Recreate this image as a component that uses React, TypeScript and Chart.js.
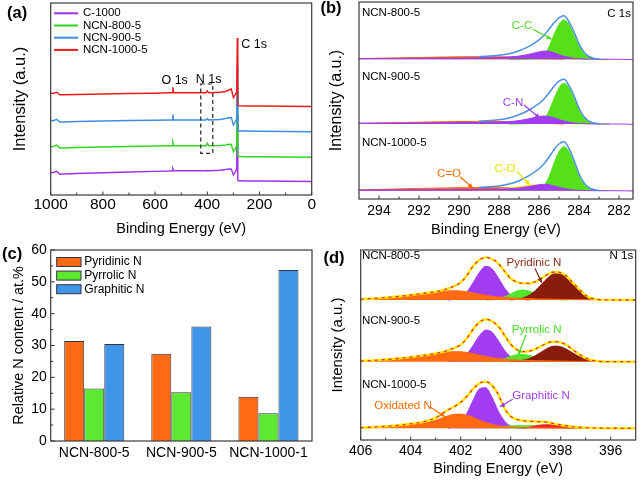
import React, { useEffect, useRef } from 'react';
import { Chart, registerables } from 'chart.js';
Chart.register(...registerables);

const FONT = "'Liberation Sans', Arial, Helvetica, sans-serif";
Chart.defaults.font.family = FONT;
Chart.defaults.color = '#000';
const CW = 641;
const CH = 481;
const _ = null;

// ---------------- (a) XPS survey ----------------
const SURVEY_NAMES = ['C-1000', 'NCN-800-5', 'NCN-900-5', 'NCN-1000-5'];
const SURVEY_EV = [1000, 990, 977, 965, 950, 900, 800, 700, 600, 545, 535, 532, 529, 520, 450, 405, 400, 395, 350, 330, 318, 308, 300, 294, 290, 287, 285, 283, 280, 250, 200, 100, 0];
const SURVEY_C1000 = [22.3, 22.5, 23.7, 20.8, 21.0, 21.5, 22.3, 23.0, 23.6, 24.0, 24.2, 26.3, 24.2, 24.3, 24.3, 24.3, 24.5, 24.3, 24.8, 25.5, 26.0, 26.0, 20.0, 22.5, 25.0, 40.0, 80.0, 14.5, 14.2, 14.0, 14.0, 13.8, 13.5];
const SURVEY_N800 = [48.3, 48.5, 50.0, 47.0, 47.0, 47.5, 48.0, 48.5, 49.0, 49.3, 49.3, 52.7, 49.3, 49.3, 49.3, 49.3, 51.7, 49.3, 49.5, 50.0, 50.7, 50.5, 43.3, 46.0, 48.0, 62.0, 104.0, 39.0, 38.5, 38.3, 38.3, 38.0, 37.8];
const SURVEY_N900 = [74.5, 74.3, 75.7, 73.0, 73.0, 73.5, 74.0, 74.5, 74.8, 75.0, 75.0, 80.7, 75.0, 75.0, 75.0, 75.0, 76.5, 75.0, 75.5, 76.5, 77.3, 77.5, 70.0, 72.5, 75.0, 90.0, 130.0, 64.5, 64.0, 64.0, 63.8, 63.5, 63.3];
const SURVEY_N1000 = [101.5, 101.7, 102.7, 100.2, 100.2, 100.5, 101.0, 101.5, 101.8, 102.2, 102.3, 107.7, 102.3, 102.3, 102.3, 102.3, 104.3, 102.3, 102.8, 103.5, 105.0, 106.0, 97.3, 100.0, 102.0, 115.0, 157.0, 90.0, 89.3, 89.0, 89.0, 88.8, 88.5];
const SURVEY_TICKS = [1000, 800, 600, 400, 200, 0];
const SURVEY_MINOR = [900, 700, 500, 300, 100];
const SURVEY_COLORS = ['#A030F0', '#33D322', '#3C8DE2', '#F01A1A'];

// ---------------- (b) C 1s ----------------
const C1S_EV = [295, 294, 293, 292, 291, 290, 289, 288, 287.5, 287, 286.5, 286, 285.75, 285.5, 285.25, 285, 284.75, 284.5, 284.25, 284, 283.75, 283.5, 283.25, 283, 282.5, 282, 281.3];
const C1S_SAMPLES = ['NCN-800-5', 'NCN-900-5', 'NCN-1000-5'];
const C1S_OFFSETS = [139.7, 75, 8.3];
const CC_800 = [_, _, _, _, _, _, _, _, 0, 0.1, 0.4, 1.5, 4.5, 12.5, 24.3, 34.9, 39.3, 34.9, 24.3, 13.4, 5.7, 2.0, 0.5, 0.1, 0, _, _];
const CN_800 = [0.8, 0.9, 1.0, 1.1, 1.2, 1.3, 1.5, 1.8, 2.3, 3.2, 5.0, 7.4, 8.3, 8.0, 6.6, 4.6, 3.0, 1.9, 1.1, 0.6, 0.3, 0.1, 0, 0, 0, 0, -0.3];
const CO_800 = [_, _, _, _, _, _, 0, 0.8, 1.6, 2.8, 4.2, 4.8, 4.4, 3.6, 2.6, 1.7, 1.0, 0.5, 0.2, 0, _, _, _, _, _, _, _];
const CEO_800 = [0.6, 1.0, 1.4, 1.8, 2.2, 2.5, 2.6, 2.5, 2.3, 2.0, 1.5, 1.0, 0.7, 0.5, 0.3, 0.1, 0, _, _, _, _, _, _, _, _, _, _];
const ENV_C_800 = [_, _, _, _, _, _, 2.7, 4.0, 5.5, 8.5, 13.0, 19.5, 24.0, 30.0, 36.5, 41.5, 43.6, 37.5, 27.5, 15.5, 7.2, 2.8, 0.9, 0.2, _, _, _];
const CC_900 = [_, _, _, _, _, _, _, _, 0, 0.1, 0.4, 1.6, 4.7, 13.0, 25.2, 36.1, 40.7, 36.1, 25.2, 13.9, 5.9, 2.1, 0.5, 0.1, 0, _, _];
const CN_900 = [0.8, 0.9, 1.0, 1.1, 1.2, 1.4, 1.6, 1.9, 2.4, 3.4, 5.3, 7.5, 8.0, 7.5, 6.2, 4.4, 2.9, 1.8, 1.0, 0.5, 0.2, 0.1, 0, 0, 0, 0, -0.3];
const CO_900 = [_, _, _, _, _, _, 0, 1.0, 1.9, 3.0, 4.4, 4.9, 4.5, 3.7, 2.7, 1.8, 1.1, 0.5, 0.2, 0, _, _, _, _, _, _, _];
const CEO_900 = [0.6, 1.0, 1.4, 1.8, 2.2, 2.5, 2.6, 2.5, 2.3, 2.0, 1.5, 1.0, 0.7, 0.5, 0.3, 0.1, 0, _, _, _, _, _, _, _, _, _, _];
const ENV_C_900 = [_, _, _, _, _, _, 2.8, 4.3, 6.0, 9.2, 14.0, 20.5, 25.0, 31.0, 37.8, 42.8, 44.7, 38.5, 28.2, 15.8, 7.3, 2.8, 0.9, 0.2, _, _, _];
const CC_1000 = [_, _, _, _, _, _, _, _, 0, 0.1, 0.5, 1.7, 5.0, 14.0, 27.2, 39.0, 44.0, 39.0, 27.2, 15.0, 6.4, 2.2, 0.6, 0.1, 0, _, _];
const CN_1000 = [0.7, 0.8, 0.9, 1.0, 1.1, 1.2, 1.3, 1.6, 2.0, 2.8, 4.2, 6.0, 6.4, 6.0, 4.8, 3.4, 2.2, 1.3, 0.7, 0.4, 0.2, 0.1, 0, 0, 0, 0, -0.3];
const CO_1000 = [_, _, _, _, _, _, 0, 1.3, 2.6, 4.0, 5.4, 5.7, 5.1, 4.1, 3.0, 1.9, 1.1, 0.6, 0.3, 0, _, _, _, _, _, _, _];
const CEO_1000 = [0.8, 1.3, 1.8, 2.3, 2.7, 3.0, 3.1, 3.0, 2.8, 2.4, 1.8, 1.2, 0.8, 0.5, 0.3, 0.1, 0, _, _, _, _, _, _, _, _, _, _];
const ENV_C_1000 = [_, _, _, _, _, _, 3.2, 4.8, 6.6, 10.0, 15.0, 22.0, 27.0, 33.5, 41.0, 46.7, 49.0, 42.0, 30.5, 17.0, 7.8, 3.0, 1.0, 0.2, _, _, _];
const C1S_TICKS = [294, 292, 290, 288, 286, 284, 282];
const C1S_MINOR = [293, 291, 289, 287, 285, 283];

// ---------------- (c) N content ----------------
const N_CATS = ['NCN-800-5', 'NCN-900-5', 'NCN-1000-1'];
const N_SERIES = ['Pyridinic N', 'Pyrrolic N', 'Graphitic N'];
const PYRIDINIC = [31.4, 27.4, 13.9];
const PYRROLIC = [16.5, 15.3, 8.7];
const GRAPHITIC = [30.5, 36.0, 53.7];
const N_TICKS = [0, 10, 20, 30, 40, 50, 60];
const N_MINOR = [5, 15, 25, 35, 45, 55];
const BAR_COLORS = ['#FF6A13', '#5DE832', '#3F95E8'];

// ---------------- (d) N 1s ----------------
const N1S_EV = [406, 405.5, 405, 404.5, 404, 403.5, 403, 402.75, 402.5, 402.25, 402, 401.75, 401.5, 401.25, 401, 400.75, 400.5, 400.25, 400, 399.75, 399.5, 399.25, 399, 398.75, 398.5, 398.25, 398, 397.75, 397.5, 397.25, 397, 396.5, 396, 395.5, 395];
const N1S_OFFSETS = [140, 78.3, 11.7];
const OX_800 = [0.8, 1.5, 2.3, 3.3, 4.6, 6.0, 7.6, 8.4, 9.1, 9.3, 9.0, 8.2, 7.0, 5.8, 4.6, 3.7, 3.0, 2.5, 2.1, 1.8, 1.5, 1.3, 1.1, 0.9, 0.8, 0.7, 0.6, 0.5, 0.4, 0.3, 0.3, 0.2, 0.2, 0.1, 0.1];
const GR_800 = [_, _, _, _, _, _, _, _, 0, 0.8, 3.0, 8.2, 17.4, 27.6, 33.7, 31.3, 22.4, 12.1, 5.0, 1.6, 0.4, 0, _, _, _, _, _, _, _, _, _, _, _, _, _];
const PY_800 = [_, _, _, _, _, _, _, _, _, _, _, _, _, _, 0, 0.4, 1.2, 3.2, 6.0, 9.0, 10.0, 8.8, 6.4, 3.9, 2.0, 0.8, 0.3, 0, _, _, _, _, _, _, _];
const PD_800 = [_, _, _, _, _, _, _, _, _, _, _, _, _, _, _, _, _, _, 0, 0.8, 2.1, 5.0, 9.8, 16.2, 22.5, 26.3, 26.0, 21.6, 14.9, 8.9, 4.5, 0.6, 0, _, _];
const ENV_N_800 = [0.8, 1.5, 2.5, 3.5, 5.0, 6.6, 8.3, 9.6, 11.5, 14.0, 17.6, 24.5, 34.0, 40.0, 42.6, 41.0, 36.7, 28.8, 21.5, 18.0, 16.6, 16.6, 18.5, 21.8, 26.0, 28.0, 27.3, 23.5, 16.8, 10.5, 4.5, 0.4, 0.1, 0, 0];
const OX_900 = [0.7, 1.3, 2.1, 3.1, 4.4, 6.0, 7.8, 8.8, 9.6, 10.0, 9.9, 9.2, 8.0, 6.6, 5.2, 4.0, 3.1, 2.5, 2.0, 1.7, 1.4, 1.2, 1.0, 0.9, 0.8, 0.7, 0.6, 0.5, 0.4, 0.3, 0.3, 0.2, 0.2, 0.1, 0.1];
const GR_900 = [_, _, _, _, _, _, _, _, 0, 0.8, 2.9, 7.8, 16.4, 25.9, 31.6, 29.5, 21.2, 11.5, 4.8, 1.5, 0.4, 0, _, _, _, _, _, _, _, _, _, _, _, _, _];
const PY_900 = [_, _, _, _, _, _, _, _, _, _, _, _, _, _, 0, 0.4, 1.2, 3.0, 5.2, 7.0, 7.3, 6.2, 4.5, 2.8, 1.5, 0.6, 0.2, 0, _, _, _, _, _, _, _];
const PD_900 = [_, _, _, _, _, _, _, _, _, _, _, _, _, _, _, _, _, _, 0, 0.6, 1.5, 3.3, 6.3, 10.0, 13.8, 15.6, 15.0, 12.2, 8.5, 5.0, 2.5, 0.3, 0, _, _];
const ENV_N_900 = [0.7, 1.3, 2.2, 3.2, 4.6, 6.3, 8.3, 9.6, 11.4, 13.8, 17.0, 23.5, 32.5, 39.5, 42.4, 40.5, 35.5, 26.5, 17.5, 12.0, 10.0, 10.5, 12.8, 16.0, 19.0, 20.0, 19.3, 16.3, 11.8, 7.3, 3.5, 0.4, 0.1, 0, 0];
const OX_1000 = [0.6, 1.0, 1.5, 2.2, 3.3, 5.0, 8.0, 10.2, 12.5, 14.0, 14.2, 13.0, 10.8, 8.2, 5.8, 3.8, 2.5, 1.7, 1.2, 0.9, 0.7, 0.6, 0.5, 0.4, 0.4, 0.3, 0.3, 0.2, 0.2, 0.2, 0.1, 0.1, 0.1, 0.1, 0.1];
const GR_1000 = [_, _, _, _, _, _, _, _, 0, 1.7, 5.9, 15.0, 28.3, 39.4, 40.6, 31.0, 17.4, 7.3, 2.2, 0.5, 0, _, _, _, _, _, _, _, _, _, _, _, _, _, _];
const PY_1000 = [_, _, _, _, _, _, _, _, _, _, _, _, _, _, _, 0, 1.2, 2.0, 2.4, 2.6, 2.6, 2.5, 2.3, 2.0, 1.6, 1.1, 0.6, 0.3, 0, _, _, _, _, _, _];
const PD_1000 = [_, _, _, _, _, _, _, _, _, _, _, _, _, _, _, _, _, _, _, _, 0, 1.0, 2.6, 3.4, 3.5, 3.0, 2.2, 1.4, 0.8, 0.4, 0.1, 0, _, _, _];
const ENV_N_1000 = [0.6, 1.2, 2.0, 3.0, 4.5, 6.5, 10.5, 14.5, 18.5, 21.8, 26.0, 32.0, 39.5, 45.0, 46.6, 43.0, 34.0, 20.0, 12.0, 8.8, 7.6, 7.0, 6.8, 6.6, 6.0, 4.5, 3.3, 2.3, 1.5, 1.0, 0.6, 0.2, 0.1, 0, 0];
const N1S_TICKS = [406, 404, 402, 400, 398, 396];
const N1S_MINOR = [405, 403, 401, 399, 397];

// ---------------- helpers ----------------
function pts(xs: number[], vals: (number | null)[], off: number) {
  return vals.map((v, i) => ({ x: xs[i], y: v === null ? null : off + v }));
}

function area(xs: number[], vals: (number | null)[], off: number, color: string, order: number, label: string) {
  return {
    label, data: pts(xs, vals, off), borderColor: color, backgroundColor: color, borderWidth: 1,
    fill: { value: off }, pointRadius: 0, cubicInterpolationMode: 'monotone', spanGaps: false, order,
  };
}

function lineDs(xs: number[], vals: (number | null)[], off: number, color: string, width: number, order: number, label: string, dash?: number[]) {
  return {
    label, data: pts(xs, vals, off), borderColor: color, backgroundColor: color, borderWidth: width,
    fill: false, pointRadius: 0, cubicInterpolationMode: 'monotone', spanGaps: false, order, borderDash: dash || [],
  };
}

function makeDecor(spec: any) {
  return {
    id: 'decor',
    afterDraw(chart: any) {
      const { ctx, chartArea: a } = chart;
      const xs = chart.scales.x;
      const ys = chart.scales.y;
      ctx.save();
      ctx.strokeStyle = '#333';
      ctx.lineWidth = 1;
      const vtick = (v: number, len: number) => {
        const p = xs.getPixelForValue(v);
        ctx.beginPath(); ctx.moveTo(p, a.bottom); ctx.lineTo(p, a.bottom - len); ctx.stroke();
      };
      const htick = (v: number, len: number) => {
        const p = ys.getPixelForValue(v);
        ctx.beginPath(); ctx.moveTo(a.left, p); ctx.lineTo(a.left + len, p); ctx.stroke();
      };
      (spec.xMajor || []).forEach((v: number) => vtick(v, 3.5));
      (spec.xMinor || []).forEach((v: number) => vtick(v, 2.5));
      (spec.yMajor || []).forEach((v: number) => htick(v, 4));
      (spec.yMinor || []).forEach((v: number) => htick(v, 2.5));
      ctx.lineWidth = 1.2;
      ctx.strokeStyle = '#3a3a3a';
      ctx.strokeRect(a.left, a.top, a.right - a.left, a.bottom - a.top);
      (spec.boxes || []).forEach((b: any) => {
        const x1 = xs.getPixelForValue(b.x1), x2 = xs.getPixelForValue(b.x2);
        const y1 = ys.getPixelForValue(b.y1), y2 = ys.getPixelForValue(b.y2);
        ctx.setLineDash([4, 3]);
        ctx.lineWidth = 1.2;
        ctx.strokeStyle = '#222';
        ctx.strokeRect(Math.min(x1, x2), Math.min(y1, y2), Math.abs(x2 - x1), Math.abs(y2 - y1));
        ctx.setLineDash([]);
      });
      (spec.arrows || []).forEach((ar: any) => {
        const x1 = xs.getPixelForValue(ar.x1), y1 = ys.getPixelForValue(ar.y1);
        const x2 = xs.getPixelForValue(ar.x2), y2 = ys.getPixelForValue(ar.y2);
        ctx.strokeStyle = ar.color; ctx.fillStyle = ar.color; ctx.lineWidth = 1.2;
        ctx.beginPath(); ctx.moveTo(x1, y1); ctx.lineTo(x2, y2); ctx.stroke();
        const ang = Math.atan2(y2 - y1, x2 - x1), L = 5, W = 2.3;
        ctx.beginPath();
        ctx.moveTo(x2, y2);
        ctx.lineTo(x2 - L * Math.cos(ang) + W * Math.sin(ang), y2 - L * Math.sin(ang) - W * Math.cos(ang));
        ctx.lineTo(x2 - L * Math.cos(ang) - W * Math.sin(ang), y2 - L * Math.sin(ang) + W * Math.cos(ang));
        ctx.closePath(); ctx.fill();
      });
      ctx.textBaseline = 'middle';
      (spec.texts || []).forEach((t: any) => {
        ctx.font = `${t.size || 11.5}px ${FONT}`;
        ctx.fillStyle = t.color || '#000';
        ctx.textAlign = t.align || 'center';
        ctx.fillText(t.text, xs.getPixelForValue(t.x), ys.getPixelForValue(t.y));
      });
      if (spec.legend) {
        const L = spec.legend;
        chart.data.datasets.forEach((d: any, i: number) => {
          const y = a.top + L.dy + i * L.gap;
          const x0 = a.left + L.dx;
          if (L.kind === 'line') {
            ctx.strokeStyle = d.borderColor; ctx.lineWidth = 2;
            ctx.beginPath(); ctx.moveTo(x0, y); ctx.lineTo(x0 + L.w, y); ctx.stroke();
          } else {
            ctx.fillStyle = d.backgroundColor;
            ctx.fillRect(x0, y - L.h / 2, L.w, L.h);
            ctx.strokeStyle = d.borderColor; ctx.lineWidth = 1;
            ctx.strokeRect(x0, y - L.h / 2, L.w, L.h);
          }
          ctx.fillStyle = '#000';
          ctx.font = `${L.size}px ${FONT}`;
          ctx.textAlign = 'left';
          ctx.fillText(d.label, x0 + L.textDx, y);
        });
      }
      if (spec.panel) {
        ctx.font = `bold 16.5px ${FONT}`;
        ctx.fillStyle = '#000';
        ctx.textAlign = 'left';
        ctx.fillText(spec.panel.text, spec.panel.x, spec.panel.y);
      }
      ctx.restore();
    },
  };
}

function baseOptions(padding: any, scales: any) {
  return {
    responsive: false, animation: false, devicePixelRatio: 1, events: [],
    layout: { padding },
    plugins: { legend: { display: false }, tooltip: { enabled: false } },
    scales,
  };
}

function xLin(min: number, max: number, ticks: number[], tickPad: number, tickSize: number, height: number, title?: string) {
  return {
    type: 'linear', position: 'bottom', min, max, reverse: true,
    grid: { display: false, drawTicks: false }, border: { display: false },
    ticks: { padding: tickPad, font: { size: tickSize, family: FONT }, color: '#000', autoSkip: false, maxRotation: 0, callback: (v: any) => String(v) },
    afterBuildTicks: (s: any) => { s.ticks = ticks.map((v) => ({ value: v })); },
    afterFit: (s: any) => { s.height = height; },
    title: { display: !!title, text: title || '', font: { size: 14.5, family: FONT }, color: '#000', padding: 0 },
  };
}

function yHidden(min: number, max: number, width: number, title: string, size: number) {
  return {
    type: 'linear', position: 'left', min, max,
    grid: { display: false, drawTicks: false }, border: { display: false },
    ticks: { display: false },
    afterFit: (s: any) => { s.width = width; },
    title: { display: true, text: title, font: { size, family: FONT }, color: '#000', padding: 0 },
  };
}

// ---------------- chart configs ----------------
function makeA() {
  const ys = [SURVEY_C1000, SURVEY_N800, SURVEY_N900, SURVEY_N1000];
  return {
    type: 'line',
    data: {
      datasets: SURVEY_NAMES.map((name, i) => ({
        label: name, data: SURVEY_EV.map((x, j) => ({ x, y: ys[i][j] })),
        borderColor: SURVEY_COLORS[i], backgroundColor: SURVEY_COLORS[i], borderWidth: 1.4,
        pointRadius: 0, tension: 0, fill: false, order: 3 - i,
      })),
    },
    options: baseOptions({ left: 10.5, top: 3, right: 329.3, bottom: 243.3 }, {
      x: xLin(0, 1000, SURVEY_TICKS, 0, 15.5, 42.7, 'Binding Energy (eV)'),
      y: yHidden(0, 192, 40.2, 'Intensity (a.u.)', 16.5),
    }),
    plugins: [makeDecor({
      xMajor: SURVEY_TICKS, xMinor: SURVEY_MINOR,
      texts: [
        { x: 525, y: 114, text: 'O 1s', size: 12.5 },
        { x: 395, y: 115, text: 'N 1s', size: 12.5 },
        { x: 270, y: 150, text: 'C 1s', size: 12.5, align: 'left' },
      ],
      boxes: [{ x1: 425, x2: 379, y1: 111, y2: 41.7 }],
      legend: { kind: 'line', dx: 3.3, dy: 10.3, gap: 12.2, w: 24, textDx: 29, size: 11.5 },
      panel: { text: '(a)', x: 7, y: 13 },
    })],
  };
}

function makeB() {
  const sets = [
    [CC_800, CN_800, CO_800, CEO_800, ENV_C_800],
    [CC_900, CN_900, CO_900, CEO_900, ENV_C_900],
    [CC_1000, CN_1000, CO_1000, CEO_1000, ENV_C_1000],
  ];
  const datasets: any[] = [];
  sets.forEach((s, k) => {
    const off = C1S_OFFSETS[k];
    const nm = C1S_SAMPLES[k];
    datasets.push(area(C1S_EV, s[3], off, '#FF6A00', 4, nm + ' C=O'));
    datasets.push(area(C1S_EV, s[2], off, '#FFEE00', 3, nm + ' C-O'));
    datasets.push(area(C1S_EV, s[0], off, '#55E01A', 2, nm + ' C-C'));
    datasets.push(area(C1S_EV, s[1], off, '#A23CF0', 1, nm + ' C-N'));
    datasets.push(lineDs(C1S_EV, s[4], off, '#4A90E2', 1.5, 0, nm + ' fit'));
  });
  return {
    type: 'line',
    data: { datasets },
    options: baseOptions({ left: 327.2, top: 2, right: 8, bottom: 242.3 }, {
      x: xLin(281.3, 295, C1S_TICKS, 3.3, 14, 39.7, 'Binding Energy (eV)'),
      y: yHidden(0, 197, 31.8, 'Intensity (a.u.)', 16),
    }),
    plugins: [makeDecor({
      xMajor: C1S_TICKS, xMinor: C1S_MINOR,
      texts: [
        { x: 294.85, y: 185.7, text: 'NCN-800-5', align: 'left' },
        { x: 294.85, y: 122.3, text: 'NCN-900-5', align: 'left' },
        { x: 294.85, y: 55.7, text: 'NCN-1000-5', align: 'left' },
        { x: 281.4, y: 185, text: 'C 1s', align: 'right' },
        { x: 286.85, y: 173, text: 'C-C', color: '#4CD91A' },
        { x: 287.3, y: 96.3, text: 'C-N', color: '#A23CF0' },
        { x: 290.5, y: 25, text: 'C=O', color: '#FF6A00' },
        { x: 287.7, y: 29.7, text: 'C-O', color: '#EEE000' },
      ],
      arrows: [
        { x1: 286.3, y1: 169.7, x2: 285.37, y2: 159.7, color: '#4CD91A' },
        { x1: 286.75, y1: 94, x2: 285.95, y2: 80.7, color: '#A23CF0' },
        { x1: 289.95, y1: 22.3, x2: 289.3, y2: 10.7, color: '#FF6A00' },
        { x1: 287.1, y1: 27.3, x2: 286.45, y2: 14, color: '#EEE000' },
      ],
      panel: { text: '(b)', x: 320.5, y: 8 },
    })],
  };
}

function makeC() {
  const vals = [PYRIDINIC, PYRROLIC, GRAPHITIC];
  return {
    type: 'bar',
    data: {
      labels: N_CATS,
      datasets: N_SERIES.map((nm, i) => ({
        label: nm, data: vals[i], backgroundColor: BAR_COLORS[i], borderColor: '#333344', borderWidth: 1,
        categoryPercentage: 0.69, barPercentage: 1,
      })),
    },
    options: baseOptions({ left: 10.66, top: 250, right: 329, bottom: 10 }, {
      x: {
        type: 'category', position: 'bottom',
        grid: { display: false, drawTicks: false }, border: { display: false },
        ticks: { padding: 4.2, font: { size: 14, family: FONT }, color: '#000', maxRotation: 0, autoSkip: false },
        afterFit: (s: any) => { s.height = 30; },
      },
      y: {
        type: 'linear', position: 'left', min: 0, max: 60,
        grid: { display: false, drawTicks: false }, border: { display: false },
        ticks: { padding: 4, font: { size: 14, family: FONT }, color: '#000' },
        afterBuildTicks: (s: any) => { s.ticks = N_TICKS.map((v) => ({ value: v })); },
        afterFit: (s: any) => { s.width = 40.04; },
        title: { display: true, text: 'Relative N content / at.%', font: { size: 14.4, family: FONT }, color: '#000', padding: 0 },
      },
    }),
    plugins: [makeDecor({
      yMajor: N_TICKS, yMinor: N_MINOR,
      legend: { kind: 'box', dx: 6, dy: 12, gap: 13.6, w: 24.3, h: 9, textDx: 27.6, size: 12 },
      panel: { text: '(c)', x: 2, y: 254 },
    })],
  };
}

function makeD() {
  const sets = [
    [OX_800, GR_800, PY_800, PD_800, ENV_N_800],
    [OX_900, GR_900, PY_900, PD_900, ENV_N_900],
    [OX_1000, GR_1000, PY_1000, PD_1000, ENV_N_1000],
  ];
  const pdColors = ['#8A1C0C', '#8A1C0C', '#F02424'];
  const datasets: any[] = [];
  sets.forEach((s, k) => {
    const off = N1S_OFFSETS[k];
    const nm = C1S_SAMPLES[k];
    datasets.push(area(N1S_EV, s[1], off, '#A23CF0', 5, nm + ' graphitic'));
    datasets.push(area(N1S_EV, s[2], off, '#50E62A', 4, nm + ' pyrrolic'));
    datasets.push(area(N1S_EV, s[3], off, pdColors[k], 3, nm + ' pyridinic'));
    datasets.push(area(N1S_EV, s[0], off, '#FF6A10', 2, nm + ' oxidated'));
    datasets.push(lineDs(N1S_EV, s[4], off, '#FFE600', 2.4, 1, nm + ' fit'));
    datasets.push(lineDs(N1S_EV, s[4], off, '#E53030', 1.3, 0, nm + ' raw', [3, 4]));
  });
  return {
    type: 'line',
    data: { datasets },
    options: baseOptions({ left: 329.3, top: 250, right: 5.3, bottom: 3 }, {
      x: xLin(395, 406, N1S_TICKS, 2.3, 14, 38, 'Binding Energy (eV)'),
      y: yHidden(0, 190, 31.4, 'Intensity (a.u.)', 15),
    }),
    plugins: [makeDecor({
      xMajor: N1S_TICKS, xMinor: N1S_MINOR,
      texts: [
        { x: 405.95, y: 184, text: 'NCN-800-5', align: 'left' },
        { x: 395.1, y: 184, text: 'N 1s', align: 'right' },
        { x: 405.95, y: 119, text: 'NCN-900-5', align: 'left' },
        { x: 405.95, y: 55, text: 'NCN-1000-5', align: 'left' },
        { x: 399.07, y: 177.3, text: 'Pyridinic N', color: '#8B2A1A' },
        { x: 398.96, y: 110, text: 'Pyrrolic N', color: '#44DD22' },
        { x: 398.79, y: 44, text: 'Graphitic N', color: '#A23CF0' },
        { x: 404.31, y: 34.3, text: 'Oxidated N', color: '#FF6A00' },
      ],
      arrows: [
        { x1: 399.03, y1: 171.7, x2: 398.76, y2: 157.3, color: '#8B2A1A' },
        { x1: 399.39, y1: 105, x2: 399.7, y2: 85, color: '#44DD22' },
        { x1: 399.92, y1: 40.7, x2: 400.43, y2: 33.3, color: '#A23CF0' },
        { x1: 403.23, y1: 33.3, x2: 402.63, y2: 23.3, color: '#FF6A00' },
      ],
      panel: { text: '(d)', x: 323.5, y: 258 },
    })],
  };
}

function ChartCanvas({ make }: { make: () => any }) {
  const ref = useRef<HTMLCanvasElement | null>(null);
  useEffect(() => {
    if (!ref.current) return;
    const c = new Chart(ref.current, make());
    return () => c.destroy();
  }, [make]);
  return (
    <canvas
      ref={ref}
      width={CW}
      height={CH}
      style={{ position: 'absolute', left: 0, top: 0, width: CW, height: CH }}
    />
  );
}

export default function App() {
  return (
    <div style={{ position: 'fixed', left: 0, top: 0, width: CW, height: CH, background: '#fff', overflow: 'hidden' }}>
      <ChartCanvas make={makeA} />
      <ChartCanvas make={makeB} />
      <ChartCanvas make={makeC} />
      <ChartCanvas make={makeD} />
    </div>
  );
}
